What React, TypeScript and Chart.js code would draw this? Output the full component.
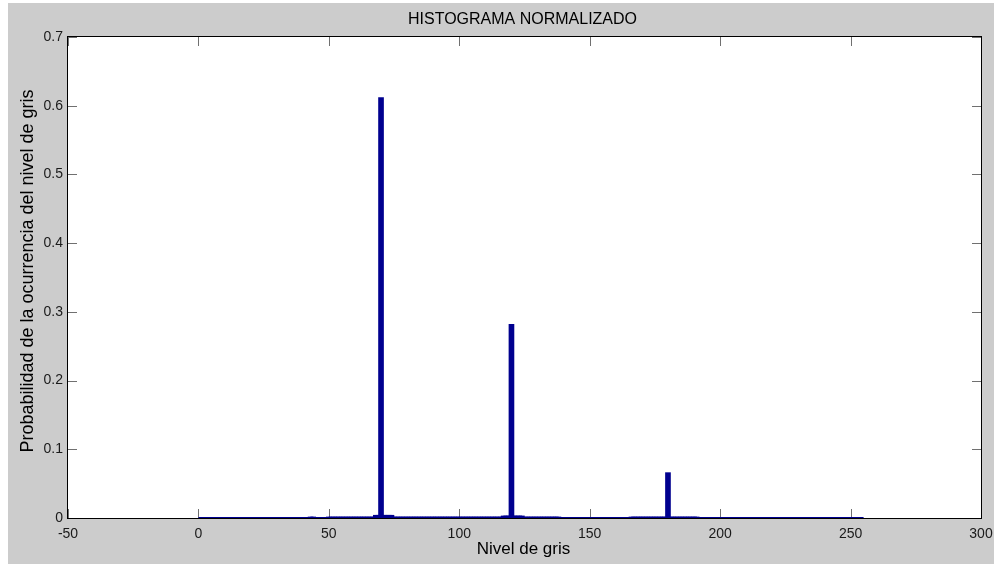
import React, { useEffect, useRef } from "react";
import { Chart, registerables } from "chart.js";

Chart.register(...registerables);

// Gray levels with non-zero probability
const grayLevels: number[] = [
  43, 44,
  50, 51, 52, 53, 54, 55, 56, 57, 58, 59, 60, 61, 62, 63, 64, 65, 66, 67,
  68, 69, 70, 71, 72, 73, 74,
  75, 76, 77, 78, 79, 80, 81, 82, 83, 84, 85, 86, 87, 88, 89, 90, 91, 92, 93, 94, 95,
  96, 97, 98, 99, 100, 101, 102, 103, 104, 105, 106, 107, 108, 109, 110, 111, 112, 113, 114, 115, 116,
  117, 118, 119, 120, 121, 122, 123, 124,
  125, 126, 127, 128, 129, 130, 131, 132, 133, 134, 135, 136, 137, 138,
  166, 167, 168, 169, 170, 171, 172, 173, 174, 175, 176, 177, 178, 179,
  180,
  181, 182, 183, 184, 185, 186, 187, 188, 189, 190, 191,
];

const probabilities: number[] = [
  0.0015, 0.0015,
  0.0015, 0.0015, 0.0015, 0.0015, 0.0015, 0.0015, 0.0015, 0.0015, 0.0015, 0.0015, 0.0015, 0.0015, 0.0015, 0.0015, 0.0015, 0.0015, 0.0015, 0.0015,
  0.004, 0.004, 0.612, 0.004, 0.004, 0.004, 0.004,
  0.0015, 0.0015, 0.0015, 0.0015, 0.0015, 0.0015, 0.0015, 0.0015, 0.0015, 0.0015, 0.0015, 0.0015, 0.0015, 0.0015, 0.0015, 0.0015, 0.0015, 0.0015, 0.0015, 0.0015, 0.0015,
  0.0015, 0.0015, 0.0015, 0.0015, 0.0015, 0.0015, 0.0015, 0.0015, 0.0015, 0.0015, 0.0015, 0.0015, 0.0015, 0.0015, 0.0015, 0.0015, 0.0015, 0.0015, 0.0015, 0.0015, 0.0015,
  0.003, 0.003, 0.003, 0.282, 0.003, 0.003, 0.003, 0.003,
  0.0015, 0.0015, 0.0015, 0.0015, 0.0015, 0.0015, 0.0015, 0.0015, 0.0015, 0.0015, 0.0015, 0.0015, 0.0015, 0.0015,
  0.0015, 0.0015, 0.0015, 0.0015, 0.0015, 0.0015, 0.0015, 0.0015, 0.0015, 0.0015, 0.0015, 0.0015, 0.0015, 0.0015,
  0.066,
  0.0015, 0.0015, 0.0015, 0.0015, 0.0015, 0.0015, 0.0015, 0.0015, 0.0015, 0.0015, 0.0015,
];

// Full range of the histogram bins (their zero-height edges form the blue baseline)
const levelRange: number[] = [0, 255];

const xTicks: number[] = [-50, 0, 50, 100, 150, 200, 250, 300];
const yTicks: number[] = [0, 0.1, 0.2, 0.3, 0.4, 0.5, 0.6, 0.7];

const TITLE = "HISTOGRAMA NORMALIZADO";
const X_TITLE = "Nivel de gris";
const Y_TITLE = "Probabilidad de la ocurrencia del nivel de gris";

const FONT = "'Liberation Sans', Arial, Helvetica, sans-serif";
const BAR_COLOR = "#00008f";

const matlabPlugin = {
  id: "matlabLook",
  beforeDraw(chart: any) {
    const { ctx, chartArea: a, width, height } = chart;
    ctx.save();
    ctx.fillStyle = "#cccccc";
    ctx.fillRect(0, 0, width, height);
    ctx.fillStyle = "#ffffff";
    ctx.fillRect(a.left, a.top, a.right - a.left, a.bottom - a.top);
    ctx.restore();
  },
  beforeDatasetsDraw(chart: any) {
    const { ctx, chartArea: a, scales } = chart;
    ctx.save();
    // inward ticks on all four sides
    ctx.strokeStyle = "#707070";
    ctx.lineWidth = 1;
    const len = 9;
    ctx.beginPath();
    xTicks.forEach((v) => {
      const x = Math.round(scales.x.getPixelForValue(v)) + 0.5;
      ctx.moveTo(x, a.bottom);
      ctx.lineTo(x, a.bottom - len);
      ctx.moveTo(x, a.top);
      ctx.lineTo(x, a.top + len);
    });
    yTicks.forEach((v) => {
      const y = Math.round(scales.y.getPixelForValue(v)) + 0.5;
      ctx.moveTo(a.left, y);
      ctx.lineTo(a.left + len, y);
      ctx.moveTo(a.right, y);
      ctx.lineTo(a.right - len, y);
    });
    ctx.stroke();
    // box
    ctx.strokeStyle = "#000000";
    ctx.strokeRect(
      Math.round(a.left) - 0.5,
      Math.round(a.top) - 0.5,
      Math.round(a.right - a.left) + 1,
      Math.round(a.bottom - a.top) + 1
    );
    ctx.restore();
  },
  afterDraw(chart: any) {
    const { ctx, chartArea: a } = chart;
    ctx.save();
    ctx.fillStyle = "#000000";
    ctx.textAlign = "center";
    ctx.textBaseline = "middle";
    ctx.font = `16px ${FONT}`;
    ctx.fillText(TITLE, (a.left + a.right) / 2 - 2, 17);
    ctx.font = `17px ${FONT}`;
    ctx.fillText(X_TITLE, (a.left + a.right) / 2 - 1, 546);
    ctx.translate(20, 268);
    ctx.rotate(-Math.PI / 2);
    ctx.font = `18px ${FONT}`;
    ctx.fillText(Y_TITLE, 0, 0);
    ctx.restore();
  },
};

export default function App() {
  const canvasRef = useRef<HTMLCanvasElement | null>(null);

  useEffect(() => {
    document.documentElement.style.overflow = "hidden";
    document.body.style.margin = "0";
    const canvas = canvasRef.current;
    if (!canvas) return;
    const chart = new Chart(canvas, {
      type: "bar",
      data: {
        datasets: [
          {
            type: "line",
            data: levelRange.map((x) => ({ x, y: 0 })),
            borderColor: BAR_COLOR,
            borderWidth: 2,
            pointRadius: 0,
            order: 2,
          } as any,
          {
            type: "bar",
            data: grayLevels.map((x, i) => ({ x, y: probabilities[i] })),
            backgroundColor: BAR_COLOR,
            borderColor: BAR_COLOR,
            borderWidth: 0,
            barThickness: 5,
            order: 1,
          } as any,
        ],
      },
      options: {
        animation: false,
        responsive: false,
        devicePixelRatio: 1,
        layout: { padding: { top: 34, right: 13, left: 0, bottom: 0 } },
        plugins: {
          legend: { display: false },
          tooltip: { enabled: false },
          title: { display: false },
        },
        scales: {
          x: {
            type: "linear",
            min: -50,
            max: 300,
            offset: false,
            grid: { display: false, offset: false },
            border: { display: false },
            ticks: {
              stepSize: 50,
              padding: 0,
              maxRotation: 0,
              autoSkip: false,
              color: "#1a1a1a",
              font: { family: FONT, size: 14 },
              callback: (v: any) => String(v),
            },
            afterFit: (s: any) => {
              s.height = 46;
            },
          },
          y: {
            type: "linear",
            min: 0,
            max: 0.7,
            grid: { display: false, drawTicks: false },
            border: { display: false },
            ticks: {
              stepSize: 0.1,
              padding: 5,
              color: "#1a1a1a",
              font: { family: FONT, size: 14 },
              callback: (v: any) => (Number(v) === 0 ? "0" : Number(v).toFixed(1)),
            },
            afterFit: (s: any) => {
              s.width = 60;
            },
          },
        },
      },
      plugins: [matlabPlugin],
    });
    return () => chart.destroy();
  }, []);

  return (
    <div
      style={{
        width: 994,
        height: 564,
        background: "#ffffff",
        position: "relative",
        overflow: "hidden",
      }}
    >
      <div style={{ position: "absolute", left: 8, top: 3, width: 986, height: 561 }}>
        <canvas
          ref={canvasRef}
          width={986}
          height={561}
          style={{ display: "block", width: 986, height: 561 }}
        />
      </div>
    </div>
  );
}
